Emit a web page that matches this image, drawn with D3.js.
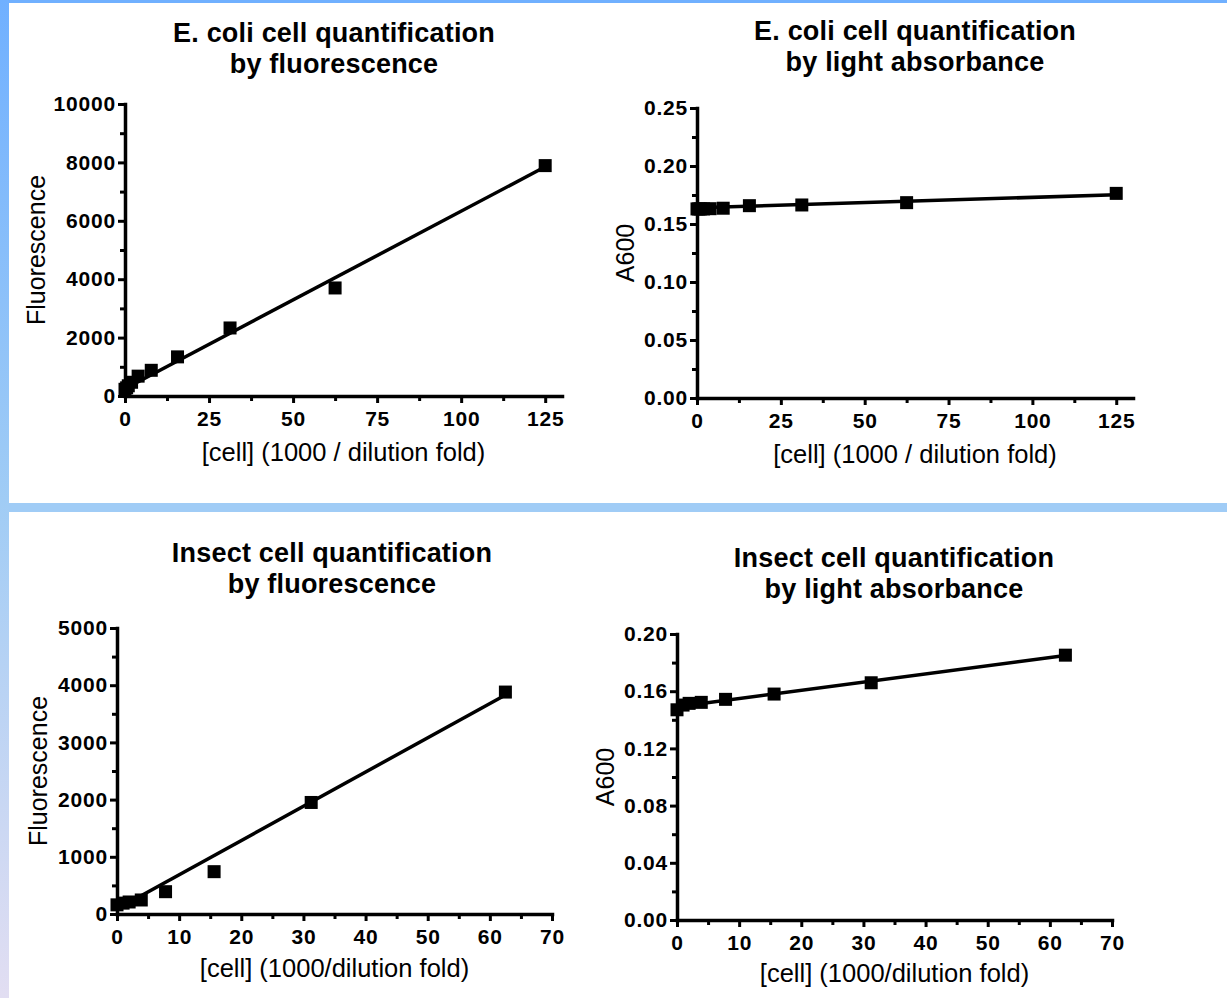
<!DOCTYPE html>
<html><head><meta charset="utf-8">
<script src="https://cdn.jsdelivr.net/npm/d3@7"></script>
<style>
body{margin:0;background:#fff}
svg{display:block}
text{font-family:"Liberation Sans",Arial,sans-serif;fill:#000}
</style>
</head><body>
<svg id="c" width="1227" height="998"></svg>
<script>
// ---------- data ----------
const cellX125 = [125, 62.5, 31.25, 15.625, 7.8125, 3.90625, 1.953, 0.977, 0.488, 0];
const ecoliFluor = [7890, 3700, 2330, 1340, 880, 680, 470, 350, 280, 230];
const ecoliA600 = [0.1764, 0.1684, 0.1664, 0.1658, 0.1636, 0.1632, 0.1630, 0.1630, 0.1630, 0.1630];
const cellX62 = [62.5, 31.25, 15.625, 7.8125, 3.90625, 1.953, 0.977, 0];
const insectFluor = [3880, 1950, 740, 390, 245, 210, 190, 160];
const insectA600 = [0.1852, 0.1659, 0.1580, 0.1543, 0.1522, 0.1515, 0.1503, 0.1470];

// fitted lines: [intercept, slope]
const ecoliFluorFit = [250, 60.8];
const ecoliA600Fit = [0.1640, 0.0000896];
const insectFluorFit = [86, 59.9];
const insectA600Fit = [0.1492, 0.000573];

// ticks
const xTicks125 = [0, 25, 50, 75, 100, 125];
const xMinor125 = [12.5, 37.5, 62.5, 87.5, 112.5];
const xTicks70 = [0, 10, 20, 30, 40, 50, 60, 70];
const xMinor70 = [5, 15, 25, 35, 45, 55, 65];
const yTicksEF = [0, 2000, 4000, 6000, 8000, 10000];
const yMinorEF = [1000, 3000, 5000, 7000, 9000];
const yTicksEA = [0, 0.05, 0.10, 0.15, 0.20, 0.25];
const yMinorEA = [0.025, 0.075, 0.125, 0.175, 0.225];
const yTicksIF = [0, 1000, 2000, 3000, 4000, 5000];
const yMinorIF = [500, 1500, 2500, 3500, 4500];
const yTicksIA = [0, 0.04, 0.08, 0.12, 0.16, 0.20];
const yMinorIA = [0.02, 0.06, 0.10, 0.14, 0.18];

const titlesEF = ["E. coli cell quantification", "by fluorescence"];
const titlesEA = ["E. coli cell quantification", "by light absorbance"];
const titlesIF = ["Insect cell quantification", "by fluorescence"];
const titlesIA = ["Insect cell quantification", "by light absorbance"];
const xLabelE = "[cell] (1000 / dilution fold)";
const xLabelI = "[cell] (1000/dilution fold)";
const yLabelF = "Fluorescence";
const yLabelA = "A600";

// ---------- layout ----------
const panels = [
  {xs: cellX125, ys: ecoliFluor, fit: ecoliFluorFit, xDom: [0,130], yDom: [0,10000],
   xr: [125, 562], yr: [396, 104], xt: xTicks125, xm: xMinor125, yt: yTicksEF, ym: yMinorEF, yfmt: d3.format("d"),
   title: titlesEF, tx: 334, ty: 42, xl: xLabelE, xly: 461, yl: yLabelF, ylx: 45},
  {xs: cellX125, ys: ecoliA600, fit: ecoliA600Fit, xDom: [0,130], yDom: [0,0.25],
   xr: [697, 1133], yr: [398, 108], xt: xTicks125, xm: xMinor125, yt: yTicksEA, ym: yMinorEA, yfmt: d3.format(".2f"),
   title: titlesEA, tx: 915, ty: 40, xl: xLabelE, xly: 463, yl: yLabelA, ylx: 634},
  {xs: cellX62, ys: insectFluor, fit: insectFluorFit, xDom: [0,70], yDom: [0,5000],
   xr: [117, 552], yr: [914, 628], xt: xTicks70, xm: xMinor70, yt: yTicksIF, ym: yMinorIF, yfmt: d3.format("d"),
   title: titlesIF, tx: 332, ty: 562, xl: xLabelI, xly: 977, yl: yLabelF, ylx: 47},
  {xs: cellX62, ys: insectA600, fit: insectA600Fit, xDom: [0,70], yDom: [0,0.20],
   xr: [677, 1112], yr: [920, 634], xt: xTicks70, xm: xMinor70, yt: yTicksIA, ym: yMinorIA, yfmt: d3.format(".2f"),
   title: titlesIA, tx: 894, ty: 567, xl: xLabelI, xly: 982, yl: yLabelA, ylx: 614}
];

const svg = d3.select("#c");

// ---------- background frame ----------
const defs = svg.append("defs");
const g = defs.append("linearGradient").attr("id","lg").attr("x1",0).attr("y1",0).attr("x2",0).attr("y2",1);
g.append("stop").attr("offset","0%").attr("stop-color","#70b0ff");
g.append("stop").attr("offset","50%").attr("stop-color","#a0ccf5");
g.append("stop").attr("offset","100%").attr("stop-color","#e2def2");
svg.append("rect").attr("x",0).attr("y",0).attr("width",1227).attr("height",998).attr("fill","#fff");
svg.append("rect").attr("x",0).attr("y",0).attr("width",1227).attr("height",3).attr("fill","#70b0ff");
svg.append("rect").attr("x",0).attr("y",503).attr("width",1227).attr("height",9).attr("fill","#a0ccf6");
svg.append("rect").attr("x",0).attr("y",0).attr("width",9).attr("height",998).attr("fill","url(#lg)");

// ---------- panels ----------
panels.forEach(p => {
  const x = d3.scaleLinear().domain(p.xDom).range(p.xr);
  const y = d3.scaleLinear().domain(p.yDom).range(p.yr);
  const G = svg.append("g");

  // title
  p.title.forEach((t, i) => {
    G.append("text").attr("x", p.tx).attr("y", p.ty + i*31)
      .attr("text-anchor","middle").attr("font-size",27).attr("font-weight","bold")
      .attr("letter-spacing",0.2).text(t);
  });

  // minor ticks
  const xm = G.append("g").attr("transform",`translate(0,${p.yr[0]})`)
    .call(d3.axisBottom(x).tickValues(p.xm).tickSize(5).tickFormat(""));
  const ym = G.append("g").attr("transform",`translate(${p.xr[0]},0)`)
    .call(d3.axisLeft(y).tickValues(p.ym).tickSize(5).tickFormat(""));
  [xm, ym].forEach(a => { a.select(".domain").remove(); a.selectAll("line").attr("stroke","#000").attr("stroke-width",3); });

  // major axes
  const xa = G.append("g").attr("transform",`translate(0,${p.yr[0]})`)
    .call(d3.axisBottom(x).tickValues(p.xt).tickSize(7).tickSizeOuter(0).tickPadding(8));
  const ya = G.append("g").attr("transform",`translate(${p.xr[0]},0)`)
    .call(d3.axisLeft(y).tickValues(p.yt).tickSize(7).tickSizeOuter(0).tickPadding(2).tickFormat(p.yfmt));
  [xa, ya].forEach(a => {
    a.select(".domain").attr("stroke","#000").attr("stroke-width",3.5).attr("stroke-linecap","square");
    a.selectAll(".tick line").attr("stroke","#000").attr("stroke-width",3);
    a.selectAll(".tick text").attr("font-size",21).attr("font-weight","bold").attr("fill","#000")
      .attr("letter-spacing",0.8)
      .style("font-family",'"Liberation Sans",Arial,sans-serif');
  });

  // axis labels
  G.append("text").attr("x",(p.xr[0]+p.xr[1])/2).attr("y",p.xly).attr("text-anchor","middle")
    .attr("font-size",25.5).text(p.xl);
  G.append("text").attr("transform",`translate(${p.ylx},${(p.yr[0]+p.yr[1])/2}) rotate(-90)`)
    .attr("text-anchor","middle").attr("font-size",25).text(p.yl);

  // fit line
  const x0 = 0, x1 = d3.max(p.xs);
  G.append("line").attr("x1",x(x0)).attr("y1",y(p.fit[0]+p.fit[1]*x0))
    .attr("x2",x(x1)).attr("y2",y(p.fit[0]+p.fit[1]*x1))
    .attr("stroke","#000").attr("stroke-width",3.5);

  // points
  const s = 13;
  G.selectAll("rect.pt").data(p.xs.map((v,i)=>[v,p.ys[i]])).enter().append("rect").attr("class","pt")
    .attr("x",d=>x(d[0])-s/2).attr("y",d=>y(d[1])-s/2).attr("width",s).attr("height",s).attr("fill","#000");
});
</script>
</body></html>
